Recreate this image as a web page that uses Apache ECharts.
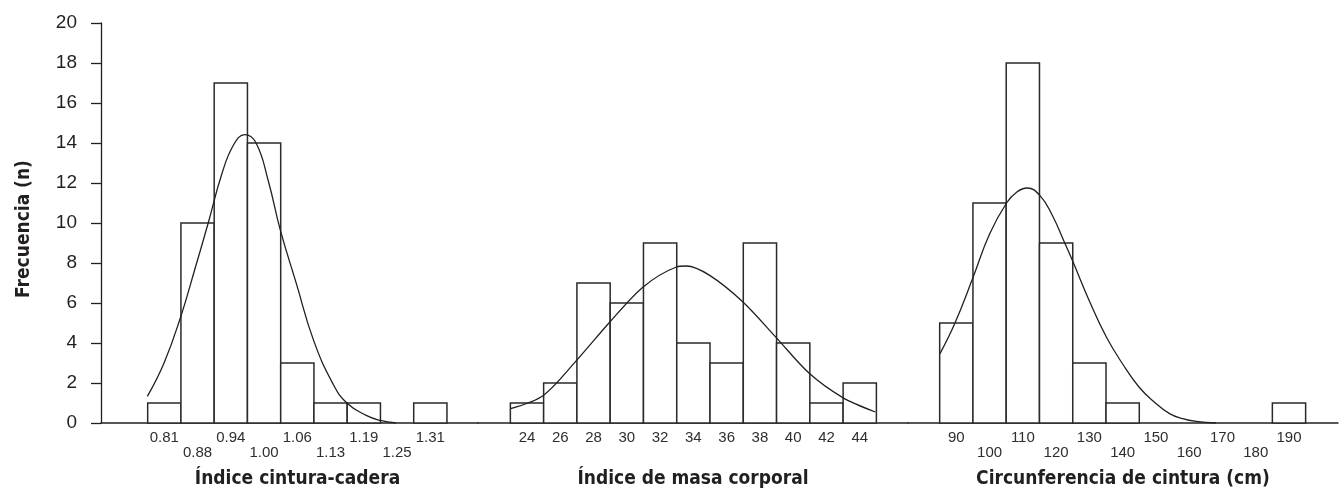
<!DOCTYPE html>
<html>
<head>
<meta charset="utf-8">
<title>Frecuencia</title>
<script src="https://cdn.jsdelivr.net/npm/echarts@6/dist/echarts.min.js"></script>
<style>
  html, body { margin: 0; padding: 0; background: #fff; }
  #chart1 { width: 1339px; height: 496px; }
</style>
</head>
<body>
<div id="chart1"></div>
<script type="text/javascript">
// Índice cintura-cadera
var ictMid = [0.8125, 0.875, 0.9375, 1.0, 1.0625, 1.125, 1.1875, 1.25, 1.3125];
var ictLabels = ['0.81', '0.88', '0.94', '1.00', '1.06', '1.13', '1.19', '1.25', '1.31'];
var ictCount = [1, 10, 17, 14, 3, 1, 1, 0, 1];
var ictCurve = [[0.7806, 1.33], [0.812, 3.0], [0.8432, 5.3], [0.87, 7.7], [0.895, 10.0],
  [0.92, 12.4], [0.9425, 13.9], [0.9638, 14.42], [0.985, 14.0], [1.008, 12.1],
  [1.0307, 9.63], [1.0607, 6.97], [1.0931, 4.13], [1.1293, 1.97], [1.1556, 1.0],
  [1.1919, 0.38], [1.2182, 0.13], [1.2482, 0]];

// Índice de masa corporal
var imcMid = [24, 26, 28, 30, 32, 34, 36, 38, 40, 42, 44];
var imcLabels = ['24', '26', '28', '30', '32', '34', '36', '38', '40', '42', '44'];
var imcCount = [1, 2, 7, 6, 9, 4, 3, 9, 4, 1, 2];
var imcCurve = [[23.02, 0.72], [24.98, 1.38], [26.98, 3.13], [28.98, 5.05], [30.98, 6.8],
  [32.98, 7.8], [33.58, 7.85], [34.98, 7.38], [36.98, 6.05], [38.98, 4.27],
  [40.98, 2.47], [42.98, 1.27], [44.94, 0.55]];

// Circunferencia de cintura (cm)
var ccMid = [90, 100, 110, 120, 130, 140, 150, 160, 170, 180, 190];
var ccLabels = ['90', '100', '110', '120', '130', '140', '150', '160', '170', '180', '190'];
var ccCount = [5, 11, 18, 9, 3, 1, 0, 0, 0, 0, 1];
var ccCurve = [[85.1, 3.47], [89.6, 5.0], [94.9, 7.22], [100.0, 9.45], [105.1, 11.0],
  [108.2, 11.55], [111.3, 11.75], [115.1, 11.38], [118.8, 10.4], [122.6, 9.0],
  [125.1, 8.05], [130.0, 6.1], [135.1, 4.3], [140.0, 2.95], [144.9, 1.8],
  [149.5, 1.05], [154.1, 0.47], [158.0, 0.22], [162.1, 0.08], [168.1, 0]];

var ink = '#231f20';
var condensed = "'Liberation Sans Narrow', 'DejaVu Sans Condensed', 'Arial Narrow', 'Liberation Sans', sans-serif";

var panels = [
  { mid: ictMid, labels: ictLabels, count: ictCount, curve: ictCurve, bin: 0.0625,
    min: 0.6935, max: 1.4021, left: 101, width: 377, stagger: true, smooth: 0.45,
    name: 'Índice cintura-cadera', namePad: [0, 0, 0, 16] },
  { mid: imcMid, labels: imcLabels, count: imcCount, curve: imcCurve, bin: 2,
    min: 21.055, max: 46.9, left: 478, width: 430, stagger: false, smooth: 0.3,
    name: 'Índice de masa corporal', namePad: [0, 0, 0, 0] },
  { mid: ccMid, labels: ccLabels, count: ccCount, curve: ccCurve, bin: 10,
    min: 75.48, max: 204.73, left: 908, width: 430, stagger: true, smooth: 0.45,
    name: 'Circunferencia de cintura (cm)', namePad: [0, 0, 0, 0] }
];

function barRender(bin) {
  return function (params, api) {
    var x = api.value(0), n = api.value(1);
    if (!n) return;
    var p0 = api.coord([x - bin / 2, n]);
    var p1 = api.coord([x + bin / 2, 0]);
    return {
      type: 'rect',
      shape: { x: p0[0], y: p0[1], width: p1[0] - p0[0], height: p1[1] - p0[1] },
      style: { fill: '#fff', stroke: '#2a2a2a', lineWidth: 1.5 }
    };
  };
}

var grids = [], xAxes = [], yAxes = [], series = [];
panels.forEach(function (p, i) {
  grids.push({ left: p.left, width: p.width, top: 23, height: 400 });
  xAxes.push({
    type: 'value', gridIndex: i, min: p.min, max: p.max,
    splitLine: { show: false },
    axisTick: { show: false },
    axisLine: { show: true, lineStyle: { color: ink, width: 1.5 } },
    axisLabel: {
      customValues: p.mid,
      margin: 7,
      color: '#2e2e2e',
      fontSize: 15,
      lineHeight: 15,
      fontFamily: "'Liberation Sans', Arial, sans-serif",
      formatter: function (v) {
        var k = 0, best = Infinity;
        p.mid.forEach(function (m, j) {
          var d = Math.abs(m - v);
          if (d < best) { best = d; k = j; }
        });
        return (p.stagger && k % 2 === 1 ? '\n' : '') + p.labels[k];
      }
    },
    name: p.name,
    nameLocation: 'middle',
    nameGap: 47,
    nameTextStyle: {
      color: ink, fontSize: 19, fontWeight: 'bold', fontFamily: condensed, padding: p.namePad
    }
  });
  yAxes.push({
    type: 'value', gridIndex: i, min: 0, max: 20, interval: 2,
    show: i === 0,
    splitLine: { show: false },
    axisLine: { show: true, lineStyle: { color: ink, width: 1.3 } },
    axisTick: { show: true, length: 10, lineStyle: { color: ink, width: 1.3 } },
    axisLabel: { margin: 24, color: ink, fontSize: 19, fontFamily: "'Liberation Sans', Arial, sans-serif" },
    name: i === 0 ? 'Frecuencia (n)' : '',
    nameLocation: 'middle',
    nameGap: 67,
    nameTextStyle: { color: ink, fontSize: 19, fontWeight: 'bold', fontFamily: condensed, padding: [0, 12, 0, 0] }
  });
  series.push({
    type: 'custom', xAxisIndex: i, yAxisIndex: i,
    renderItem: barRender(p.bin),
    encode: { x: 0, y: 1 },
    data: p.mid.map(function (m, j) { return [m, p.count[j]]; }),
    z: 2
  });
  series.push({
    type: 'line', xAxisIndex: i, yAxisIndex: i,
    data: p.curve, smooth: p.smooth, symbol: 'none',
    lineStyle: { color: ink, width: 1.3 },
    z: 3
  });
});

var myChart1 = echarts.init(document.getElementById('chart1'));
myChart1.setOption({
  animation: false,
  backgroundColor: '#fff',
  grid: grids,
  xAxis: xAxes,
  yAxis: yAxes,
  series: series
});
</script>
</body>
</html>
